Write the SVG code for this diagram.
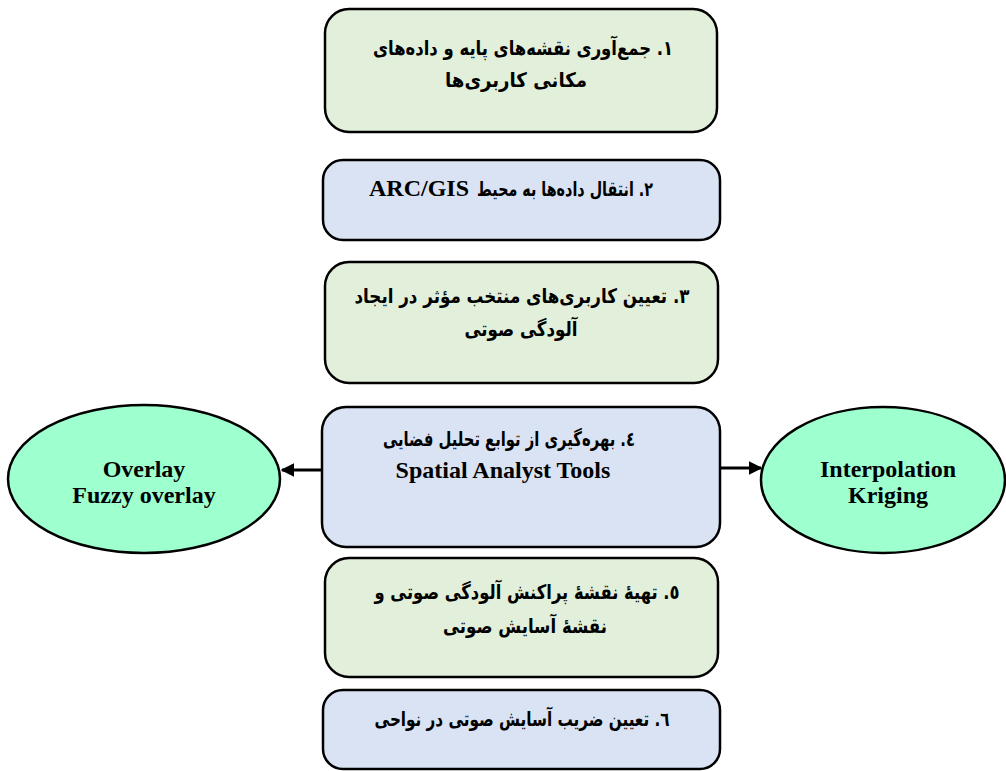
<svg xmlns="http://www.w3.org/2000/svg" width="1006" height="771" viewBox="0 0 1006 771">
<defs>
<style>
.g{fill:#e2efda;stroke:#000;stroke-width:2.5}
.b{fill:#dae3f3;stroke:#000;stroke-width:2.5}
.e{fill:#9effcf;stroke:#000;stroke-width:2.5}
.fa{font-family:"DejaVu Sans","Noto Sans",sans-serif;font-weight:bold;font-size:20px;fill:#000;text-anchor:middle}
.en{font-family:"Liberation Serif",serif;font-weight:bold;font-size:24px;fill:#000;text-anchor:middle}
.c{stroke:#000;stroke-width:3;fill:none}
</style>
<marker id="ah" viewBox="0 0 10 10" refX="9" refY="5" markerWidth="4.5" markerHeight="4.5" orient="auto" markerUnits="strokeWidth">
<path d="M0,0 L10,5 L0,10 z" fill="#000"/>
</marker>
</defs>
<rect width="1006" height="771" fill="#fff"/>
<g id="n1">
<rect class="g" x="325" y="9" width="392" height="123" rx="24"/>
<text class="fa" x="523" y="55" direction="rtl" textLength="300" lengthAdjust="spacingAndGlyphs">۱. جمع‌آوری نقشه‌های پایه و داده‌های</text>
<text class="fa" x="516" y="87" direction="rtl" textLength="142" lengthAdjust="spacingAndGlyphs">مکانی کاربری‌ها</text>
</g>
<g id="n2">
<rect class="b" x="323" y="160" width="397" height="80" rx="20"/>
<text class="fa" x="565" y="196" direction="rtl" textLength="176" lengthAdjust="spacingAndGlyphs">۲. انتقال داده‌ها به محیط</text>
<text class="en" x="419" y="196">ARC/GIS</text>
</g>
<g id="n3">
<rect class="g" x="325" y="262" width="393" height="121" rx="24"/>
<text class="fa" x="522" y="303" direction="rtl" textLength="335" lengthAdjust="spacingAndGlyphs">۳. تعیین کاربری‌های منتخب مؤثر در ایجاد</text>
<text class="fa" x="521" y="336" direction="rtl" textLength="113" lengthAdjust="spacingAndGlyphs">آلودگی صوتی</text>
</g>
<g id="n4">
<rect class="b" x="322" y="407" width="398" height="140" rx="24"/>
<text class="fa" x="509" y="446" direction="rtl" textLength="252" lengthAdjust="spacingAndGlyphs">٤. بهره‌گیری از توابع تحلیل فضایی</text>
<text class="en" x="503" y="478">Spatial Analyst Tools</text>
</g>
<g id="n5">
<rect class="g" x="325" y="558" width="393" height="119" rx="24"/>
<text class="fa" x="527" y="599" direction="rtl" textLength="305" lengthAdjust="spacingAndGlyphs">٥. تهیهٔ نقشهٔ پراکنش آلودگی صوتی و</text>
<text class="fa" x="525" y="633" direction="rtl" textLength="164" lengthAdjust="spacingAndGlyphs">نقشهٔ آسایش صوتی</text>
</g>
<g id="n6">
<rect class="b" x="323" y="690" width="397" height="79" rx="20"/>
<text class="fa" x="522" y="726" direction="rtl" textLength="295" lengthAdjust="spacingAndGlyphs">٦. تعیین ضریب آسایش صوتی در نواحی</text>
</g>
<g id="e1">
<ellipse class="e" cx="144" cy="479" rx="136" ry="74"/>
<text class="en" x="144" y="477">Overlay</text>
<text class="en" x="144" y="503">Fuzzy overlay</text>
</g>
<g id="e2">
<ellipse class="e" cx="883" cy="480" rx="122" ry="73"/>
<text class="en" x="888" y="477">Interpolation</text>
<text class="en" x="888" y="503">Kriging</text>
</g>
<g id="connectors">
<line class="c" x1="321" y1="470" x2="282" y2="470" marker-end="url(#ah)"/>
<line class="c" x1="721" y1="468" x2="761" y2="468" marker-end="url(#ah)"/>
</g>
</svg>
